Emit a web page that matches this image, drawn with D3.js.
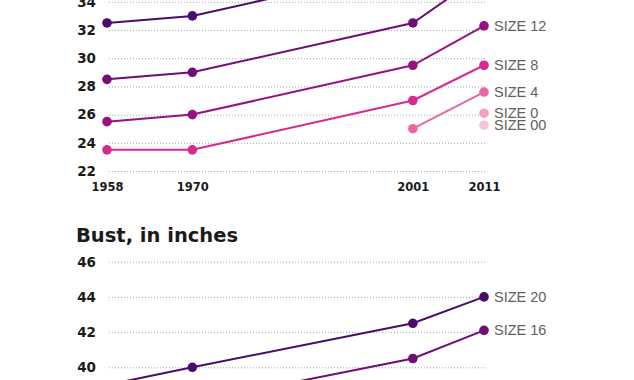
<!DOCTYPE html>
<html>
<head>
<meta charset="utf-8">
<script src="https://cdn.jsdelivr.net/npm/d3@7"></script>
<style>
  html, body { margin: 0; padding: 0; background: #fff; }
  svg { display: block; }
</style>
</head>
<body>
<svg id="chart" width="634" height="380"></svg>
<script>
// ---- data ----
const years = [1958, 1970, 2001, 2011];
const waistTicks = [22, 24, 26, 28, 30, 32, 34];
const bustTicks = [40, 42, 44, 46];
const bustTitle = "Bust, in inches";

const waistSize20 = [32.5, 33, 36.5, 38.5];
const waistSize16 = [28.5, 29, 32.5, 36];
const waistSize12 = [25.5, 26, 29.5, 32.3];
const waistSize8  = [23.5, 23.5, 27, 29.5];
const waistSize4  = [null, null, 25, 27.6];
const waistSize0  = [null, null, null, 26.1];
const waistSize00 = [null, null, null, 25.25];

const bustSize20 = [39, 40, 42.5, 44];
const bustSize16 = [37, 38, 40.5, 42.1];

const sizeColors = {
  "SIZE 20": "#4a0c6b",
  "SIZE 16": "#700d76",
  "SIZE 12": "#96127f",
  "SIZE 8":  "#d52a8e",
  "SIZE 4":  "#ea66a3",
  "SIZE 0":  "#f2a2be",
  "SIZE 00": "#f6c3d2"
};

const waistSeries = [
  {name: "SIZE 20", values: waistSize20},
  {name: "SIZE 16", values: waistSize16},
  {name: "SIZE 12", values: waistSize12},
  {name: "SIZE 8",  values: waistSize8},
  {name: "SIZE 4",  values: waistSize4},
  {name: "SIZE 0",  values: waistSize0},
  {name: "SIZE 00", values: waistSize00}
];
const bustSeries = [
  {name: "SIZE 20", values: bustSize20},
  {name: "SIZE 16", values: bustSize16}
];

// ---- layout ----
const svg = d3.select("#chart");
const W = 634, H = 380;
svg.append("rect").attr("width", W).attr("height", H).attr("fill", "#fff");

const x = d3.scaleLinear().domain([1958, 2011]).range([107, 484]);
const gridLeft = 108, gridRight = 485;

const yWaist = d3.scaleLinear().domain([22, 34]).range([171, 1.8]);
const yBust = d3.scaleLinear().domain([40, 46]).range([367.3, 261.7]);

function drawGrid(y, ticks) {
  const g = svg.append("g")
    .attr("transform", `translate(${gridRight},0)`)
    .call(d3.axisLeft(y).tickValues(ticks).tickFormat(d3.format("d")).tickSize(gridRight - gridLeft));
  g.select(".domain").remove();
  g.selectAll(".tick line")
    .attr("stroke", "#a8a8a8")
    .attr("stroke-width", 1)
    .attr("stroke-dasharray", "1,2");
  g.selectAll(".tick text")
    .attr("x", -(gridRight - 96))
    .attr("font-family", "DejaVu Sans")
    .attr("font-weight", "bold")
    .attr("font-size", 13.5)
    .attr("fill", "#1a1a1a");
}

function drawSeries(y, series) {
  const line = d3.line()
    .defined(d => d.v != null)
    .x(d => x(d.year))
    .y(d => y(d.v));
  series.forEach(s => {
    const pts = years.map((yr, i) => ({year: yr, v: s.values[i]}));
    const col = sizeColors[s.name];
    svg.append("path")
      .datum(pts)
      .attr("d", line)
      .attr("fill", "none")
      .attr("stroke", col)
      .attr("stroke-width", 2);
    svg.append("g").selectAll("circle")
      .data(pts.filter(d => d.v != null))
      .join("circle")
      .attr("cx", d => x(d.year))
      .attr("cy", d => y(d.v))
      .attr("r", 4.8)
      .attr("fill", col);
    const last = pts[pts.length - 1];
    const ly = y(last.v);
    if (ly > 8 && ly < H - 8) {
      svg.append("text")
        .attr("x", x(last.year) + 10)
        .attr("y", ly + 5)
        .attr("font-family", "Liberation Sans")
        .attr("font-size", 14.5)
        .attr("fill", "#5f5f5f")
        .text(s.name);
    }
  });
}

// waist panel
drawGrid(yWaist, waistTicks);
drawSeries(yWaist, waistSeries);

const xAxis = svg.append("g")
  .attr("transform", `translate(0,171)`)
  .call(d3.axisBottom(x).tickValues(years).tickFormat(d3.format("d")).tickSize(0).tickPadding(12));
xAxis.select(".domain").remove();
xAxis.selectAll(".tick text")
  .attr("font-family", "DejaVu Sans")
  .attr("font-weight", "bold")
  .attr("font-size", 11.5)
  .attr("fill", "#1a1a1a");

// bust panel
svg.append("text")
  .attr("x", 76)
  .attr("y", 242)
  .attr("font-family", "DejaVu Sans")
  .attr("font-weight", "bold")
  .attr("font-size", 19.5)
  .attr("fill", "#1a1a1a")
  .text(bustTitle);

drawGrid(yBust, bustTicks);
drawSeries(yBust, bustSeries);
</script>
</body>
</html>
